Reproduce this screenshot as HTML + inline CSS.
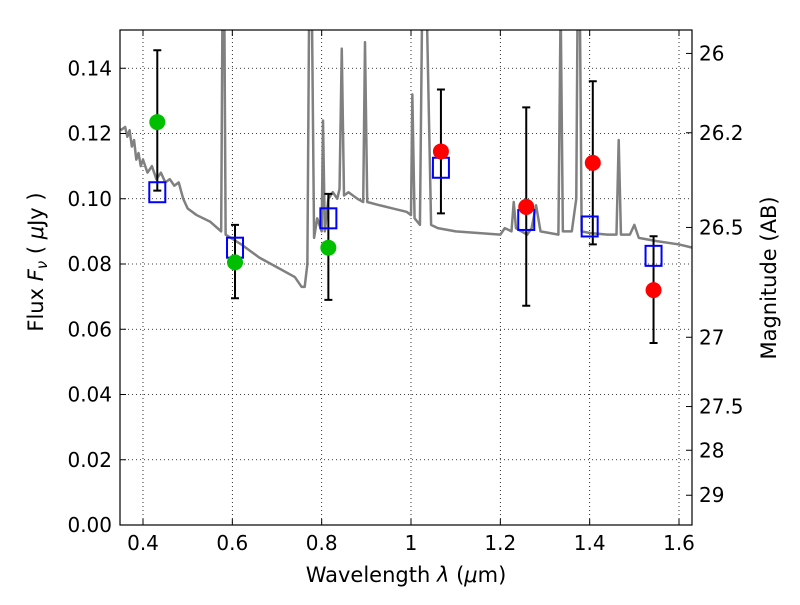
<!DOCTYPE html>
<html><head><meta charset="utf-8"><style>
body{margin:0;background:#fff}
svg text{font-family:"DejaVu Sans","Liberation Sans",sans-serif;fill:#000}
</style></head><body>
<svg id="chart" width="800" height="600" viewBox="0 0 800 600" xmlns="http://www.w3.org/2000/svg">
<defs><clipPath id="clip"><rect x="120" y="30" width="572" height="495"/></clipPath></defs>
<rect width="800" height="600" fill="#fff"/>
<g id="grid"></g>
<g id="plot" clip-path="url(#clip)"></g>
<g id="marks"></g>
<rect x="120" y="30" width="572" height="495" fill="none" stroke="#000" stroke-width="1.2"/>
<g id="axes"></g>
<text x="406" y="582" font-size="21" text-anchor="middle">Wavelength  <tspan font-style="italic">λ</tspan> (<tspan font-style="italic">μ</tspan>m)</text>
<text transform="translate(43,262) rotate(-90)" font-size="21" text-anchor="middle">Flux  <tspan font-style="italic">F<tspan font-size="15" dy="4">ν</tspan></tspan><tspan dy="-4">  ( </tspan><tspan font-style="italic">μ</tspan>Jy )</text>
<text transform="translate(776,278) rotate(-90)" font-size="21" text-anchor="middle">Magnitude (AB)</text>
</svg>
<script>
const xTicks=[0.4,0.6,0.8,1.0,1.2,1.4,1.6];
const xTickLabels=["0.4","0.6","0.8","1","1.2","1.4","1.6"];
const yTicks=[0,0.02,0.04,0.06,0.08,0.1,0.12,0.14];
const yTickLabels=["0.00","0.02","0.04","0.06","0.08","0.10","0.12","0.14"];
const magTicks=[26,26.2,26.5,27,27.5,28,29];
const magTickLabels=["26","26.2","26.5","27","27.5","28","29"];
const specWave=[0.35,0.36,0.365,0.37,0.375,0.38,0.385,0.39,0.395,0.40,0.41,0.42,0.43,0.44,0.45,0.46,0.47,0.48,0.49,0.50,0.52,0.55,0.575,0.578,0.582,0.585,0.62,0.66,0.70,0.74,0.755,0.762,0.768,0.772,0.778,0.783,0.79,0.80,0.803,0.807,0.815,0.825,0.835,0.84,0.845,0.85,0.86,0.88,0.893,0.897,0.902,0.93,0.96,0.99,1.0,1.003,1.008,1.02,1.025,1.035,1.045,1.06,1.1,1.2,1.21,1.225,1.23,1.235,1.26,1.27,1.28,1.29,1.33,1.335,1.34,1.36,1.37,1.373,1.378,1.382,1.40,1.44,1.46,1.465,1.47,1.49,1.5,1.51,1.55,1.6,1.63];
const specFlux=[0.121,0.122,0.119,0.121,0.116,0.118,0.112,0.114,0.110,0.112,0.108,0.110,0.106,0.108,0.105,0.106,0.104,0.105,0.100,0.097,0.095,0.093,0.090,0.160,0.160,0.089,0.086,0.082,0.079,0.076,0.073,0.073,0.080,0.160,0.160,0.088,0.094,0.090,0.124,0.090,0.100,0.102,0.100,0.103,0.146,0.101,0.102,0.100,0.099,0.148,0.099,0.098,0.097,0.096,0.095,0.132,0.094,0.092,0.160,0.160,0.092,0.091,0.090,0.089,0.091,0.090,0.099,0.091,0.089,0.091,0.098,0.090,0.089,0.160,0.090,0.090,0.100,0.160,0.160,0.090,0.0895,0.089,0.089,0.118,0.089,0.089,0.092,0.088,0.087,0.086,0.085];
const greenWave=[0.432,0.606,0.815];
const greenFlux=[0.1235,0.0805,0.085];
const redWave=[1.067,1.258,1.407,1.543];
const redFlux=[0.1145,0.0975,0.111,0.072];
const modelWave=[0.432,0.606,0.815,1.067,1.258,1.40,1.543];
const modelFlux=[0.102,0.085,0.094,0.1095,0.0935,0.0915,0.0825];
const errWave=[0.432,0.606,0.815,1.067,1.258,1.407,1.543];
const errLow=[0.1025,0.0695,0.069,0.0955,0.0672,0.086,0.0558];
const errHigh=[0.1455,0.092,0.1015,0.1335,0.128,0.136,0.0885];

const X=v=>143+(v-0.4)*446.67/1.0;
const Y=v=>525-v*3262.5;
const M=m=>Y(Math.pow(10,(23.9-m)/2.5));
const NS="http://www.w3.org/2000/svg";
function mk(parent,tag,attrs,text){const e=document.createElementNS(NS,tag);for(const k in attrs)e.setAttribute(k,attrs[k]);if(text!==undefined)e.textContent=text;document.getElementById(parent).appendChild(e);return e;}

xTicks.forEach((t,i)=>{
 let g=mk('grid','line',{x1:X(t),x2:X(t),y1:30,y2:525,stroke:'#000','stroke-width':0.8,'stroke-dasharray':'1,3'});
 
 
 mk('axes','line',{x1:X(t),x2:X(t),y1:525,y2:519,stroke:'#000'});
 mk('axes','line',{x1:X(t),x2:X(t),y1:30,y2:36,stroke:'#000'});
 let l=mk('axes','text',{x:X(t),y:550,'font-size':20,'text-anchor':'middle'},xTickLabels[i]);
 
 
});
yTicks.forEach((t,i)=>{
 let g=mk('grid','line',{x1:120,x2:692,y1:Y(t),y2:Y(t),stroke:'#000','stroke-width':0.8,'stroke-dasharray':'1,3'});
 
 
 mk('axes','line',{x1:120,x2:126,y1:Y(t),y2:Y(t),stroke:'#000'});
 let l=mk('axes','text',{x:112,y:Y(t)+7,'font-size':20,'text-anchor':'end'},yTickLabels[i]);
 
 
});
magTicks.forEach((m,i)=>{
 mk('axes','line',{x1:686,x2:692,y1:M(m),y2:M(m),stroke:'#000'});
 let l=mk('axes','text',{x:699,y:M(m)+7,'font-size':20},magTickLabels[i]);
 
 
});
let sp=mk('plot','polyline',{points:specWave.map((w,i)=>X(w)+','+Y(specFlux[i])).join(' '),fill:'none',stroke:'#808080','stroke-width':2.5,'stroke-linejoin':'round'});


errWave.forEach((w,i)=>{
 const x=X(w);
 let e=mk('marks','path',{d:`M${x},${Y(errLow[i])}V${Y(errHigh[i])}M${x-4},${Y(errLow[i])}H${x+4}M${x-4},${Y(errHigh[i])}H${x+4}`,stroke:'#000','stroke-width':2,fill:'none'});
 
 
});
modelWave.forEach((w,i)=>{
 let r=mk('marks','rect',{x:X(w)-8,y:Y(modelFlux[i])-10,width:16,height:20,fill:'none',stroke:'#0000ff','stroke-width':2});
 
 
});
greenWave.forEach((w,i)=>{
 let c=mk('marks','circle',{cx:X(w),cy:Y(greenFlux[i]),r:8,fill:'#00bf00'});
 
 
});
redWave.forEach((w,i)=>{
 let c=mk('marks','circle',{cx:X(w),cy:Y(redFlux[i]),r:8,fill:'#ff0000'});
 
 
});
</script>
</body></html>
